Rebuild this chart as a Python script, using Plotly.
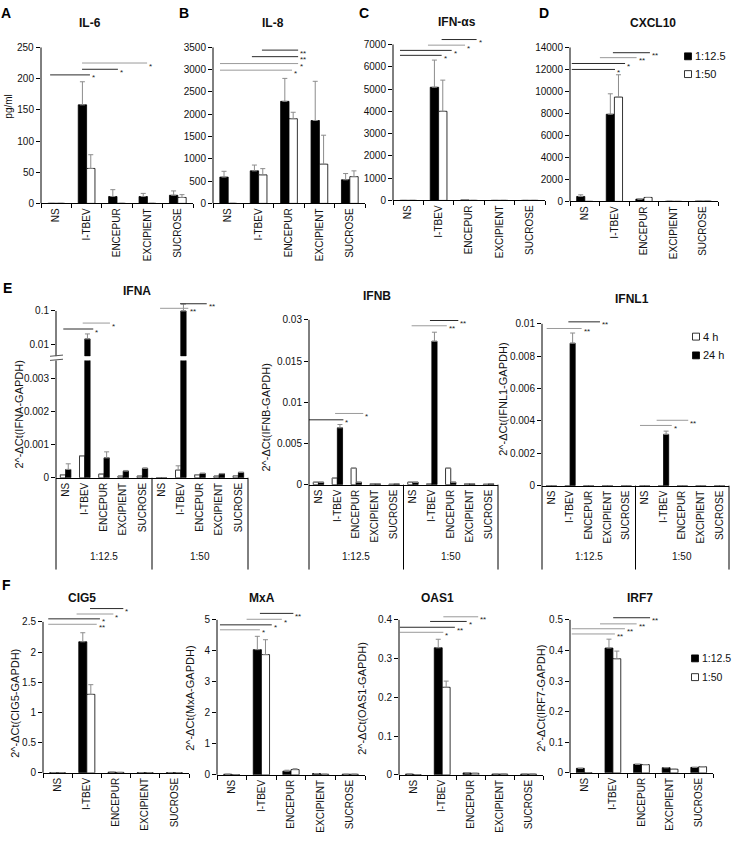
import math
import plotly.graph_objects as go

W, H = 732, 845
FONT = "Liberation Sans, Arial, sans-serif"
ERR = "#8c8c8c"
DARK, GRAY = "#2a2a2a", "#9a9a9a"

# ---------------- data ----------------
CATS = ["NS", "I-TBEV", "ENCEPUR", "EXCIPIENT", "SUCROSE"]
DILUTIONS = ["1:12.5", "1:50"]
TIMES = ["4 h", "24 h"]

# A  IL-6 (pg/ml)
IL6_D12 = [0, 158, 11, 11, 13]
IL6_D12_SD = [0, 37, 11, 5, 7]
IL6_D50 = [0, 56, 0, 0, 9.5]
IL6_D50_SD = [0, 22, 0, 0, 4.5]
# B  IL-8
IL8_D12 = [590, 730, 2290, 1860, 530]
IL8_D12_SD = [130, 130, 515, 880, 140]
IL8_D50 = [0, 640, 1900, 880, 600]
IL8_D50_SD = [0, 140, 145, 650, 130]
# C  IFN-alphas
IFNAS_D12 = [0, 5080, 20, 0, 0]
IFNAS_D12_SD = [0, 1220, 0, 0, 0]
IFNAS_D50 = [0, 4000, 0, 0, 0]
IFNAS_D50_SD = [0, 1400, 0, 0, 0]
# D  CXCL10
CXCL10_D12 = [450, 7925, 210, 10, 20]
CXCL10_D12_SD = [150, 1860, 0, 0, 0]
CXCL10_D50 = [0, 9485, 360, 0, 20]
CXCL10_D50_SD = [0, 2030, 0, 0, 0]

# E  IFNA (4 h / 24 h, per dilution group)
IFNA_4H_D12 = [0.00009, 0.00066, 0.00011, 0.00005, 0.00005]
IFNA_4H_D12_SD = [0, 0, 0, 0, 0]
IFNA_4H_D50 = [0, 0.00023, 0.00009, 0.00005, 0.00006]
IFNA_4H_D50_SD = [0, 0.00013, 0, 0, 0]
IFNA_24H_D12 = [0.00025, 0.0147, 0.0006, 0.0002, 0.00028]
IFNA_24H_D12_SD = [0.00017, 0.006, 0.00018, 0.00002, 0.00002]
IFNA_24H_D50 = [0, 0.1, 0.00013, 0.00012, 0.00016]
IFNA_24H_D50_SD = [0, 0.06, 0.00001, 0.00001, 0.00001]
# E  IFNB
IFNB_4H_D12 = [0.0003, 0.0008, 0.002, 0.0001, 0.00005]
IFNB_4H_D50 = [0.0003, 0.0001, 0.002, 0.0001, 0.00005]
IFNB_24H_D12 = [0.0003, 0.0069, 0.0003, 0.0001, 0.0001]
IFNB_24H_D12_SD = [0, 0.0004, 0, 0, 0]
IFNB_24H_D50 = [0.0003, 0.0174, 0.0003, 0.0001, 0.0001]
IFNB_24H_D50_SD = [0, 0.0011, 0, 0, 0]
# E  IFNL1
IFNL1_4H_D12 = [0, 0, 0, 0, 0]
IFNL1_4H_D50 = [0, 0, 0, 0, 0]
IFNL1_24H_D12 = [0, 0.0088, 0, 0, 0]
IFNL1_24H_D12_SD = [0, 0.00063, 0, 0, 0]
IFNL1_24H_D50 = [0, 0.00317, 0, 0, 0]
IFNL1_24H_D50_SD = [0, 0.0002, 0, 0, 0]

# F
CIG5_D12 = [0.003, 2.17, 0.012, 0.005, 0.005]
CIG5_D12_SD = [0, 0.15, 0, 0, 0]
CIG5_D50 = [0.002, 1.3, 0.008, 0.004, 0.004]
CIG5_D50_SD = [0, 0.16, 0, 0, 0]
MXA_D12 = [0.02, 4.04, 0.12, 0.04, 0.02]
MXA_D12_SD = [0, 0.43, 0.03, 0, 0]
MXA_D50 = [0, 3.88, 0.17, 0.02, 0.02]
MXA_D50_SD = [0, 0.48, 0.03, 0, 0]
OAS1_D12 = [0.002, 0.328, 0.005, 0.002, 0.002]
OAS1_D12_SD = [0, 0.022, 0, 0, 0]
OAS1_D50 = [0, 0.226, 0.004, 0.002, 0.002]
OAS1_D50_SD = [0, 0.016, 0, 0, 0]
IRF7_D12 = [0.015, 0.408, 0.028, 0.017, 0.018]
IRF7_D12_SD = [0, 0.029, 0, 0, 0]
IRF7_D50 = [0, 0.373, 0.027, 0.012, 0.02]
IRF7_D50_SD = [0, 0.025, 0, 0, 0]

# y tick values / labels
YT_IL6 = [0, 50, 100, 150, 200, 250]
YT_IL8 = [0, 500, 1000, 1500, 2000, 2500, 3000, 3500]
YT_IFNAS = [0, 1000, 2000, 3000, 4000, 5000, 6000, 7000]
YT_CXCL10 = [0, 2000, 4000, 6000, 8000, 10000, 12000, 14000]
YT_IFNA_LOW = [0, 0.001, 0.002, 0.003]
YT_IFNA_HIGH = [0.01, 0.1]
YT_IFNB = [0, 0.005, 0.01, 0.015, 0.02]
YT_IFNB_TEXT = ["0", "0.005", "0.01", "0.015", "0.03"]
YT_IFNL1 = [0, 0.002, 0.004, 0.006, 0.008, 0.01]
YT_CIG5 = [0, 0.5, 1, 1.5, 2, 2.5]
YT_MXA = [0, 1, 2, 3, 4, 5]
YT_OAS1 = [0, 0.1, 0.2, 0.3, 0.4]
YT_IRF7 = [0, 0.1, 0.2, 0.3, 0.4, 0.5]

# significance brackets: (from, to [category units], level, label, tone)
SIG_IL6 = [(-0.2, 1.11, 206, "*", "k"), (0.85, 2.03, 215, "*", "k"), (0.85, 2.99, 225, "*", "g")]
SIG_IL8 = [(1.11, 2.30, 3440, "**", "k"), (0.78, 2.30, 3293, "**", "k"),
           (-0.27, 2.30, 3138, "*", "g"), (-0.27, 2.10, 2990, "*", "g")]
SIG_IFNAS = [(1.10, 2.25, 7222, "*", "k"), (0.65, 1.87, 6970, "*", "g"),
             (-0.27, 1.43, 6735, "*", "k"), (-0.27, 1.10, 6513, "*", "k")]
SIG_CXCL10 = [(0.95, 2.20, 13520, "**", "k"), (0.51, 1.75, 13070, "**", "g"),
              (-0.44, 1.36, 12540, "*", "k"), (-0.44, 1.02, 12000, "*", "k")]
SIG_IFNA = [(-0.12, 1.44, 0.029, "*", "k"), (0.89, 2.31, 0.0436, "*", "g"),
            (4.92, 6.39, 0.12, "**", "g"), (5.96, 7.35, 0.164, "**", "k")]
SIG_IFNB = [(-0.71, 1.32, 0.00787, "*", "k"), (0.88, 2.37, 0.00864, "*", "g"),
            (4.93, 6.79, 0.01928, "**", "g"), (5.90, 7.40, 0.01992, "**", "k")]
SIG_IFNL1 = [(-0.25, 1.62, 0.00971, "**", "g"), (0.91, 2.60, 0.01012, "**", "k"),
             (4.74, 6.44, 0.00372, "*", "g"), (5.63, 7.32, 0.00404, "**", "g")]
SIG_CIG5 = [(1.11, 2.25, 2.72, "*", "k"), (0.65, 1.91, 2.63, "*", "g"),
            (-0.32, 1.45, 2.55, "*", "k"), (-0.32, 1.34, 2.46, "**", "g")]
SIG_MXA = [(0.95, 2.08, 5.21, "**", "k"), (0.50, 1.69, 5.02, "*", "g"),
           (-0.40, 1.35, 4.84, "*", "k"), (-0.40, 0.95, 4.68, "*", "g")]
SIG_OAS1 = [(1.04, 2.25, 0.408, "**", "g"), (0.58, 1.85, 0.396, "*", "k"),
            (-0.47, 1.44, 0.381, "**", "k"), (-0.47, 1.04, 0.368, "*", "g")]
SIG_IRF7 = [(1.01, 2.30, 0.507, "**", "k"), (0.55, 1.83, 0.487, "**", "g"),
            (-0.44, 1.42, 0.471, "**", "g"), (-0.44, 1.07, 0.454, "**", "g")]

# ---------------- helpers ----------------
traces, shapes, anns = [], [], []
layout = {}


def pxx(p):
    return p / W


def pxy(p):
    return 1 - p / H


def lin_domain(y0px, ytop_px, ytop, yext):
    ppu = (y0px - ytop_px) / ytop
    return [pxy(y0px), pxy(y0px - yext * ppu)]


def fmt(v):
    return f"{v:g}"


def make_x(n, xl, xr, labels, boundary_ticks=True, visible=True):
    nc = len(labels)
    d = dict(domain=[pxx(xl), pxx(xr)], anchor="y%d" % n, range=[-0.5, nc - 0.5],
             tickmode="array", tickvals=list(range(nc)), ticktext=labels, tickangle=-90,
             ticks="", showline=True, linecolor="black", linewidth=1, showgrid=False,
             zeroline=False, tickfont=dict(size=10, color="#111", family=FONT),
             ticklabeloverflow="allow", fixedrange=True, visible=visible)
    if boundary_ticks:
        d["minor"] = dict(tickmode="array", tickvals=[i - 0.5 for i in range(nc + 1)],
                          ticks="outside", ticklen=4, tickcolor="black", tickwidth=1,
                          showgrid=False)
    layout["xaxis%d" % n] = d


def make_y(n, dom, rng, tickvals, ticktext=None, typ="linear"):
    layout["yaxis%d" % n] = dict(
        domain=dom, anchor="x%d" % n, range=rng, type=typ, tickmode="array",
        tickvals=tickvals, ticktext=ticktext or [fmt(v) for v in tickvals],
        ticks="outside", ticklen=4, tickcolor="black", tickwidth=1, showline=False,
        showgrid=False, zeroline=False, tickfont=dict(size=10, color="#111", family=FONT),
        ticklabeloverflow="allow", fixedrange=True)


def y_line(n, xl, frac_top, frac_bot=0.0):
    shapes.append(dict(type="line", xref="paper", yref="y%d domain" % n,
                       x0=pxx(xl), x1=pxx(xl), y0=frac_bot, y1=frac_top,
                       line=dict(color="black", width=1)))


def add_bars(n, y, sd, color, base=None):
    x = list(range(len(y)))
    arr = [s if s else None for s in sd]
    arrm = [0 if s else None for s in sd]
    traces.append(go.Bar(
        x=x, y=y, base=base, xaxis="x%d" % n, yaxis="y%d" % n,
        marker=dict(color=color, line=dict(color="black", width=0.8)),
        error_y=dict(type="data", array=arr, arrayminus=arrm, symmetric=False,
                     color=ERR, thickness=1, width=2.5),
        hoverinfo="skip", showlegend=False))


def add_sig(n, sigs, log=False):
    for x0, x1, yv, label, tone in sigs:
        traces.append(go.Scatter(
            x=[x0, x1], y=[yv, yv], mode="lines", xaxis="x%d" % n, yaxis="y%d" % n,
            line=dict(color=DARK if tone == "k" else GRAY, width=1),
            hoverinfo="skip", showlegend=False))
        yy = math.log10(yv) if log else yv
        anns.append(dict(xref="x%d" % n, yref="y%d" % n, x=x1, y=yy, text=label,
                         showarrow=False, xanchor="left", yanchor="middle", xshift=0,
                         yshift=-3, font=dict(size=8, color="#222", family=FONT)))


def text(xpx, ypx, t, size=10, bold=False, angle=0, xanchor="center", color="#111"):
    anns.append(dict(xref="paper", yref="paper", x=pxx(xpx), y=pxy(ypx),
                     text=f"<b>{t}</b>" if bold else t, showarrow=False,
                     xanchor=xanchor, yanchor="middle", textangle=angle,
                     font=dict(size=size, color=color, family=FONT)))


def legend_item(xpx, ypx, fill, label, size=11):
    shapes.append(dict(type="rect", xref="paper", yref="paper",
                       x0=pxx(xpx - 3.5), x1=pxx(xpx + 3.5),
                       y0=pxy(ypx + 3.5), y1=pxy(ypx - 3.5),
                       fillcolor=fill, line=dict(color="black", width=0.8)))
    text(xpx + 4.5, ypx, label, size=size, xanchor="left")


# ---------------- A-D and F panels (axis ids start at 2) ----------------
std_panels = [
    (2, 41, 193, 201, 43, 250, 252, YT_IL6, IL6_D12, IL6_D12_SD, IL6_D50, IL6_D50_SD, SIG_IL6),
    (3, 213, 365, 201, 43, 3500, 3500, YT_IL8, IL8_D12, IL8_D12_SD, IL8_D50, IL8_D50_SD, SIG_IL8),
    (4, 393, 545, 198, 40, 7000, 7300, YT_IFNAS, IFNAS_D12, IFNAS_D12_SD, IFNAS_D50, IFNAS_D50_SD, SIG_IFNAS),
    (5, 570, 718, 199, 43, 14000, 14000, YT_CXCL10, CXCL10_D12, CXCL10_D12_SD, CXCL10_D50, CXCL10_D50_SD, SIG_CXCL10),
    (10, 43, 189, 778, 625, 2.5, 2.8, YT_CIG5, CIG5_D12, CIG5_D12_SD, CIG5_D50, CIG5_D50_SD, SIG_CIG5),
    (11, 217, 365, 780, 623, 5, 5.3, YT_MXA, MXA_D12, MXA_D12_SD, MXA_D50, MXA_D50_SD, SIG_MXA),
    (12, 399, 543, 780, 623, 0.4, 0.42, YT_OAS1, OAS1_D12, OAS1_D12_SD, OAS1_D50, OAS1_D50_SD, SIG_OAS1),
    (13, 570, 713, 778, 623, 0.5, 0.52, YT_IRF7, IRF7_D12, IRF7_D12_SD, IRF7_D50, IRF7_D50_SD, SIG_IRF7),
]
for (n, xl, xr, y0, yt, ytop, yext, ticks, d12, d12sd, d50, d50sd, sig) in std_panels:
    rng_top = yext * 1.003
    make_x(n, xl, xr, CATS)
    if n == 2:
        # top IL-6 tick label is written as an annotation anchored on the axis scale
        make_y(n, lin_domain(y0, yt, ytop, rng_top), [0, rng_top], ticks,
               [fmt(v) for v in ticks[:-1]] + [" "])
        anns.append(dict(xref="x2 domain", yref="y2", x=0, y=ticks[-1], text=fmt(ticks[-1]),
                         showarrow=False, xanchor="right", yanchor="middle", xshift=-5,
                         font=dict(size=10, color="#111", family=FONT)))
    else:
        make_y(n, lin_domain(y0, yt, ytop, rng_top), [0, rng_top], ticks)
    y_line(n, xl, ytop / rng_top)
    add_bars(n, d12, d12sd, "black")
    add_bars(n, d50, d50sd, "white")
    add_sig(n, sig)

# ---------------- E panels ----------------
CATS_E = CATS + CATS

# IFNA: broken axis (linear lower part, log upper part)
LOW_TOP = 0.00353
UP_BASE, UP_TOP = 0.0045, 0.2
ifna_4h = IFNA_4H_D12 + IFNA_4H_D50
ifna_4h_sd = IFNA_4H_D12_SD + IFNA_4H_D50_SD
ifna_24h = IFNA_24H_D12 + IFNA_24H_D50
ifna_24h_sd = IFNA_24H_D12_SD + IFNA_24H_D50_SD

make_x(6, 56, 248, CATS_E, boundary_ticks=False)
make_y(6, lin_domain(479, 378, 0.003, LOW_TOP), [0, LOW_TOP], YT_IFNA_LOW)
y_line(6, 56, 1.0)
add_bars(6, ifna_4h, ifna_4h_sd, "white")
add_bars(6, ifna_24h, ifna_24h_sd, "black")

lo, hi = math.log10(UP_BASE), math.log10(UP_TOP)
dec_px = 34.0
up_dom = [pxy(310 + (-1 - lo) * dec_px), pxy(310 - (hi + 1) * dec_px)]
make_x(7, 56, 248, CATS_E, boundary_ticks=False, visible=False)
make_y(7, up_dom, [lo, hi], YT_IFNA_HIGH, typ="log")
y_line(7, 56, (-1 - lo) / (hi - lo))
add_bars(7, [None] * len(ifna_4h), [0] * len(ifna_4h), "white")
add_bars(7, [v - UP_BASE if v > LOW_TOP else None for v in ifna_24h],
         [s if v > LOW_TOP else 0 for v, s in zip(ifna_24h, ifna_24h_sd)], "black", base=UP_BASE)
add_sig(7, SIG_IFNA, log=True)
for yb in (355.3, 359.5):
    shapes.append(dict(type="line", xref="paper", yref="paper", x0=pxx(50), x1=pxx(63),
                       y0=pxy(yb + 0.6), y1=pxy(yb - 0.6), line=dict(color="#555", width=1)))

# IFNB
make_x(8, 309, 498, CATS_E, boundary_ticks=False)
make_y(8, lin_domain(486, 319, 0.02, 0.0205), [0, 0.0205], YT_IFNB, YT_IFNB_TEXT)
y_line(8, 309, 0.02 / 0.0205)
add_bars(8, IFNB_4H_D12 + IFNB_4H_D50, [0] * 10, "white")
add_bars(8, IFNB_24H_D12 + IFNB_24H_D50, IFNB_24H_D12_SD + IFNB_24H_D50_SD, "black")
add_sig(8, SIG_IFNB)

# IFNL1
make_x(9, 542, 729, CATS_E, boundary_ticks=False)
make_y(9, lin_domain(487, 323, 0.01, 0.0104), [0, 0.0104], YT_IFNL1)
y_line(9, 542, 0.01 / 0.0104)
add_bars(9, IFNL1_4H_D12 + IFNL1_4H_D50, [0] * 10, "white")
add_bars(9, IFNL1_24H_D12 + IFNL1_24H_D50, IFNL1_24H_D12_SD + IFNL1_24H_D50_SD, "black")
add_sig(9, SIG_IFNL1)

# group separators and dilution labels under E panels
for n, axis_px in ((6, 479), (8, 486), (9, 487)):
    for fx in (0.0, 0.5, 1.0):
        shapes.append(dict(type="line", xref="x%d domain" % n, yref="paper", x0=fx, x1=fx,
                           y0=pxy(axis_px), y1=pxy(572), line=dict(color="black", width=1)))
    for fx, g in zip((0.25, 0.75), DILUTIONS):
        anns.append(dict(xref="x%d domain" % n, yref="paper", x=fx, y=pxy(559), text=g,
                         showarrow=False, xanchor="center", yanchor="middle",
                         font=dict(size=10, color="#111", family=FONT)))

# ---------------- titles, letters, axis titles, legends ----------------
for t, x, y in [("IL-6", 90, 18), ("IL-8", 273, 18), ("IFN-αs", 457, 17), ("CXCL10", 653, 18),
                ("IFNA", 137, 290), ("IFNB", 377, 295), ("IFNL1", 632, 298),
                ("CIG5", 82, 601), ("MxA", 262, 601), ("OAS1", 437, 601), ("IRF7", 640, 601)]:
    text(x, y, t, size=12, bold=True)
for t, x, y in [("A", 6, 8), ("B", 184, 8), ("C", 364, 8), ("D", 544, 8), ("E", 7, 287), ("F", 6, 588)]:
    text(x, y, t, size=14, bold=True, color="#000")

text(9, 103, "pg/ml", size=10, angle=-90)
for t, x, y in [("2^-ΔCt(IFNA-GAPDH)", 19, 415), ("2^-ΔCt(IFNB-GAPDH)", 266, 418),
                ("2^-ΔCt(IFNL1-GAPDH)", 503, 400), ("2^-ΔCt(CIG5-GAPDH)", 15, 708),
                ("2^-ΔCt(MxA-GAPDH)", 190, 703), ("2^-ΔCt(OAS1-GAPDH)", 362, 703),
                ("2^-ΔCt(IRF7-GAPDH)", 541, 703)]:
    text(x, y, t, size=11, angle=-90)

legend_item(688, 52, "black", DILUTIONS[0])
legend_item(688, 70, "white", DILUTIONS[1])
legend_item(696, 336, "white", TIMES[0])
legend_item(696, 355, "black", TIMES[1])
legend_item(695, 662, "black", DILUTIONS[0], size=10.5)
legend_item(695, 681, "white", DILUTIONS[1], size=10.5)

fig = go.Figure(data=traces)
fig.update_layout(
    width=W, height=H, margin=dict(l=0, r=0, t=0, b=0),
    paper_bgcolor="white", plot_bgcolor="white", showlegend=False,
    barmode="group", bargap=0.45, bargroupgap=0,
    font=dict(family=FONT, size=10, color="#111"),
    shapes=shapes, annotations=anns, **layout)
fig.write_html("out.html", config={"displayModeBar": False},
               post_script="document.body.style.margin='0';document.body.style.overflow='hidden';")
